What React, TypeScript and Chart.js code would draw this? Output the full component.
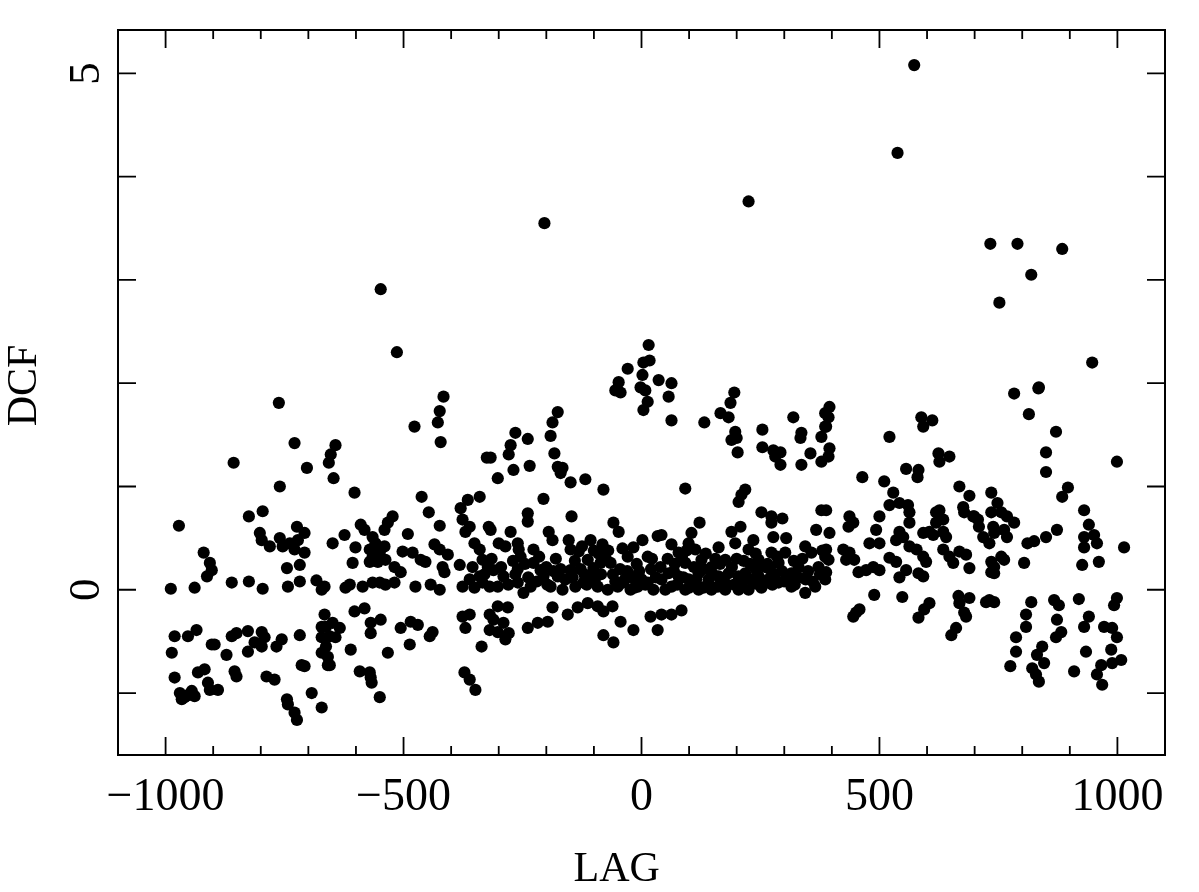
import React, { useEffect, useRef } from "react";
import { Chart, registerables } from "chart.js";

Chart.register(...registerables);

// ---- Data (LAG, DCF) ----
const farLeftPoints: [number, number][] = [
  [-762, 1.81], [-729, 1.42], [-857, 1.23], [-703, 1.18], [-760, 1.0], [-972, 0.62],
  [-825, 0.71], [-796, 0.76], [-802, 0.55], [-798, 0.48], [-781, 0.42], [-760, 0.5],
  [-754, 0.42], [-739, 0.45], [-724, 0.61], [-708, 0.55], [-722, 0.48], [-729, 0.39],
  [-708, 0.36], [-920, 0.36], [-907, 0.26], [-903, 0.19], [-913, 0.13], [-745, 0.21],
  [-718, 0.24], [-989, 0.01], [-939, 0.02], [-861, 0.07], [-825, 0.08], [-796, 0.01],
  [-743, 0.03], [-718, 0.08], [-683, 0.09], [-672, 0.0], [-981, -0.45], [-987, -0.61],
  [-953, -0.45], [-935, -0.39], [-903, -0.53], [-897, -0.53], [-861, -0.45], [-851, -0.42],
  [-827, -0.4], [-798, -0.41], [-813, -0.51], [-827, -0.6], [-798, -0.55], [-792, -0.46],
  [-756, -0.48], [-767, -0.55], [-872, -0.63], [-718, -0.44], [-672, -0.36], [-672, -0.46],
  [-672, -0.61], [-981, -0.85], [-970, -1.0], [-953, -1.02], [-939, -1.03], [-966, -1.06],
  [-960, -1.04], [-945, -0.98], [-918, -0.77], [-932, -0.8], [-911, -0.9], [-907, -0.97],
  [-890, -0.97], [-855, -0.79], [-851, -0.84], [-788, -0.84], [-771, -0.87], [-714, -0.73],
  [-708, -0.74], [-693, -1.0], [-745, -1.06], [-743, -1.11], [-729, -1.19], [-724, -1.26],
  [-672, -1.14], [-659, -0.73],
];

const leftPoints: [number, number][] = [
  [-416, 1.87], [-424, 1.73], [-428, 1.62], [-422, 1.43], [-477, 1.58], [-643, 1.4],
  [-653, 1.31], [-657, 1.23], [-647, 1.08], [-325, 1.28], [-603, 0.94], [-462, 0.9],
  [-447, 0.75], [-424, 0.62], [-365, 0.87], [-340, 0.9], [-380, 0.79], [-376, 0.68],
  [-361, 0.61], [-370, 0.56], [-321, 0.61], [-590, 0.63], [-582, 0.58], [-523, 0.71],
  [-533, 0.65], [-540, 0.58], [-624, 0.53], [-649, 0.45], [-565, 0.51], [-559, 0.45],
  [-571, 0.39], [-565, 0.32], [-550, 0.36], [-540, 0.42], [-538, 0.29], [-554, 0.27],
  [-571, 0.27], [-601, 0.41], [-607, 0.26], [-491, 0.54], [-502, 0.37], [-481, 0.36],
  [-464, 0.29], [-454, 0.27], [-519, 0.22], [-506, 0.17], [-435, 0.44], [-424, 0.39],
  [-407, 0.34], [-418, 0.22], [-414, 0.17], [-382, 0.24], [-351, 0.45], [-340, 0.39],
  [-334, 0.29], [-323, 0.22], [-355, 0.22], [-361, 0.1], [-340, 0.13], [-334, 0.07],
  [-319, 0.03], [-376, 0.03], [-351, 0.02], [-666, 0.03], [-622, 0.02], [-613, 0.05],
  [-586, 0.03], [-565, 0.07], [-550, 0.07], [-538, 0.05], [-519, 0.07], [-475, 0.03],
  [-443, 0.05], [-424, 0.0], [-666, -0.24], [-663, -0.36], [-649, -0.32], [-634, -0.37],
  [-655, -0.45], [-643, -0.46], [-663, -0.55], [-659, -0.65], [-655, -0.73], [-603, -0.21],
  [-582, -0.18], [-569, -0.32], [-548, -0.29], [-569, -0.42], [-611, -0.58], [-533, -0.61],
  [-506, -0.37], [-485, -0.31], [-470, -0.34], [-487, -0.53], [-439, -0.41], [-445, -0.45],
  [-592, -0.79], [-571, -0.8], [-569, -0.85], [-567, -0.9], [-550, -1.04], [-376, -0.26],
  [-361, -0.24], [-370, -0.37], [-319, -0.24], [-319, -0.39], [-336, -0.55], [-372, -0.8],
  [-361, -0.87], [-349, -0.97],
];

const centerLeftPoints: [number, number][] = [
  [15, 2.37], [17, 2.22], [4, 2.2], [2, 2.08], [-2, 1.96], [8, 1.93], [-29, 2.14],
  [-48, 2.01], [-44, 1.91], [-55, 1.93], [36, 2.03], [13, 1.82], [4, 1.74], [-176, 1.72],
  [-187, 1.62], [-191, 1.49], [-183, 1.32], [-176, 1.19], [-166, 1.18], [-170, 1.13],
  [-149, 1.04], [-118, 1.07], [-265, 1.52], [-275, 1.4], [-279, 1.31], [-239, 1.46],
  [-235, 1.2], [-269, 1.16], [-302, 1.08], [-317, 1.28], [-80, 0.97], [-206, 0.88],
  [-239, 0.74], [-239, 0.66], [-147, 0.71], [-59, 0.65], [-48, 0.56], [-317, 0.58],
  [-275, 0.56], [-286, 0.42], [-258, 0.39], [-254, 0.32], [-227, 0.39], [-195, 0.56],
  [-187, 0.48], [-153, 0.48], [-149, 0.39], [-107, 0.48], [-82, 0.44], [-132, 0.37],
  [-113, 0.29], [-86, 0.26], [-65, 0.26], [2, 0.48], [-17, 0.41], [-29, 0.32], [13, 0.32],
  [34, 0.52], [-311, 0.19], [-290, 0.13], [-302, 0.03], [-260, 0.07], [-233, 0.03],
  [-248, -0.03], [-206, 0.13], [-191, 0.03], [-176, 0.13], [-166, 0.0], [-139, 0.03],
  [-122, 0.07], [-107, 0.13], [-92, 0.03], [-71, 0.0], [-50, 0.03], [-38, 0.07], [-23, 0.0],
  [-8, 0.03], [13, 0.07], [25, 0.0], [-227, 0.26], [-212, 0.19], [-149, 0.19], [-101, 0.21],
  [-260, 0.2], [-180, 0.3], [-120, 0.15], [-60, 0.15], [-30, 0.18], [0, 0.1], [-10, 0.25],
  [20, 0.2], [30, 0.12], [-40, 0.4], [-90, 0.35], [-140, 0.28], [-200, 0.22], [-270, 0.28],
  [-302, -0.16], [-281, -0.17], [-311, -0.29], [-290, -0.32], [-302, -0.41], [-286, -0.48],
  [-279, -0.42], [-239, -0.37], [-218, -0.32], [-197, -0.31], [-187, -0.17], [-155, -0.24],
  [-134, -0.17], [-113, -0.13], [-92, -0.16], [-80, -0.21], [-61, -0.16], [-44, -0.31],
  [-17, -0.39], [19, -0.26], [34, -0.39], [-80, -0.44], [-59, -0.51], [-204, 3.55],
  [-548, 2.91], [-514, 2.3],
];

const centerBandPoints: [number, number][] = [
  [-330, 0.15], [-315, 0.3], [-295, 0.22], [-280, 0.05], [-265, 0.15], [-245, 0.25],
  [-238, 0.12], [-220, 0.08], [-215, 0.32], [-198, 0.05], [-185, 0.18], [-170, 0.2],
  [-160, 0.1], [-145, 0.12], [-128, 0.2], [-115, 0.05], [-98, 0.1], [-85, 0.15],
  [-75, 0.3], [-55, 0.08], [-45, 0.2], [-35, 0.1], [-20, 0.12], [-5, 0.18], [8, 0.05],
  [22, 0.3], [40, 0.22], [-125, 0.42], [-100, 0.38], [-70, 0.38], [-15, 0.02],
  [-260, 0.45], [-300, 0.45], [55, 0.3], [68, 0.18], [88, 0.12], [95, 0.38], [115, 0.1],
  [130, 0.2], [150, 0.15], [165, 0.25], [180, 0.05], [200, 0.3], [212, 0.08], [228, 0.25],
  [240, 0.35], [252, 0.02], [265, 0.25], [275, 0.05], [285, 0.32], [295, 0.18], [310, 0.1],
  [322, 0.05], [338, 0.3], [345, 0.1], [360, 0.08], [375, 0.15], [380, 0.38], [160, 0.03],
  [130, 0.02], [100, 0.02], [240, 0.06], [270, 0.2],
];

const centerRightPoints: [number, number][] = [
  [63, 2.0], [57, 1.87], [63, 1.64], [195, 1.91], [187, 1.81], [166, 1.71], [183, 1.67],
  [132, 1.62], [197, 1.53], [200, 1.47], [189, 1.45], [202, 1.33], [319, 1.67], [336, 1.52],
  [334, 1.47], [254, 1.55], [254, 1.38], [277, 1.35], [292, 1.33], [281, 1.29], [292, 1.21],
  [355, 1.32], [336, 1.21], [378, 1.24], [386, 1.58], [378, 1.48], [386, 1.71], [92, 0.98],
  [218, 0.97], [210, 0.92], [204, 0.85], [252, 0.75], [273, 0.71], [296, 0.69], [273, 0.65],
  [378, 0.77], [367, 0.58], [122, 0.65], [105, 0.55], [42, 0.53], [189, 0.56], [208, 0.61],
  [197, 0.45], [277, 0.51], [304, 0.5], [235, 0.48], [225, 0.39], [63, 0.44], [78, 0.36],
  [99, 0.45], [113, 0.39], [92, 0.26], [126, 0.29], [147, 0.22], [162, 0.41], [176, 0.29],
  [57, 0.16], [78, 0.13], [99, 0.1], [120, 0.16], [141, 0.1], [162, 0.13], [183, 0.16],
  [204, 0.13], [218, 0.16], [231, 0.1], [246, 0.29], [260, 0.22], [273, 0.36], [288, 0.26],
  [302, 0.36], [315, 0.16], [330, 0.22], [344, 0.42], [357, 0.36], [372, 0.22], [386, 0.32],
  [246, 0.13], [267, 0.1], [288, 0.07], [315, 0.03], [344, -0.03], [365, 0.03], [386, 0.1],
  [42, 0.1], [63, 0.03], [92, 0.0], [120, 0.0], [147, 0.0], [176, 0.0], [204, 0.0], [225, 0.0],
  [50, 0.0], [42, -0.24], [63, -0.24], [84, -0.2], [70, 0.25], [85, 0.32], [135, 0.35],
  [155, 0.3], [190, 0.22], [215, 0.28], [240, 0.2], [280, 0.15], [300, 0.08], [330, 0.12],
  [350, 0.18], [110, 0.22], [170, 0.08], [195, 0.05], [255, 0.05], [320, 0.28], [75, 0.05],
  [105, 0.06], [140, 0.06], [225, 3.76],
];

const rightPoints: [number, number][] = [
  [395, 1.77], [393, 1.67], [388, 1.58], [395, 1.37], [393, 1.29], [588, 1.67], [611, 1.64],
  [592, 1.58], [521, 1.48], [624, 1.32], [647, 1.29], [626, 1.24], [556, 1.17], [582, 1.16],
  [580, 1.09], [464, 1.09], [510, 1.05], [529, 0.94], [521, 0.82], [668, 1.0], [689, 0.91],
  [676, 0.8], [678, 0.75], [697, 0.71], [707, 0.68], [735, 0.94], [735, 0.75], [542, 0.84],
  [560, 0.82], [563, 0.75], [563, 0.65], [542, 0.56], [550, 0.51], [535, 0.48], [563, 0.42],
  [578, 0.39], [592, 0.32], [598, 0.27], [592, 0.55], [605, 0.56], [619, 0.75], [626, 0.77],
  [619, 0.65], [634, 0.68], [634, 0.56], [613, 0.53], [640, 0.51], [388, 0.77], [395, 0.55],
  [388, 0.39], [393, 0.29], [388, 0.17], [437, 0.71], [435, 0.61], [445, 0.65], [500, 0.71],
  [493, 0.58], [424, 0.39], [437, 0.36], [447, 0.29], [430, 0.29], [479, 0.45], [500, 0.45],
  [456, 0.17], [472, 0.19], [487, 0.22], [500, 0.19], [521, 0.31], [535, 0.27], [542, 0.12],
  [556, 0.19], [582, 0.16], [592, 0.13], [634, 0.39], [647, 0.32], [655, 0.26], [668, 0.37],
  [682, 0.34], [689, 0.21], [699, 0.71], [709, 0.61], [718, 0.51], [731, 0.45], [739, 0.61],
  [735, 0.27], [735, 0.17], [489, -0.05], [548, -0.07], [451, -0.22], [445, -0.26],
  [458, -0.19], [582, -0.27], [594, -0.19], [605, -0.13], [666, -0.06], [668, -0.13],
  [689, -0.08], [678, -0.22], [682, -0.26], [724, -0.12], [731, -0.1], [651, -0.44],
  [661, -0.37], [573, 5.08], [538, 4.23],
];

const farRightPoints: [number, number][] = [
  [783, 1.9], [835, 1.96], [814, 1.7], [871, 1.53], [850, 1.33], [850, 1.14], [999, 1.24],
  [896, 0.99], [884, 0.9], [930, 0.77], [940, 0.63], [951, 0.53], [957, 0.45], [930, 0.51],
  [930, 0.41], [926, 0.24], [961, 0.27], [1014, 0.41], [873, 0.58], [850, 0.51], [825, 0.47],
  [811, 0.45], [804, 0.26], [748, 0.84], [756, 0.75], [768, 0.71], [783, 0.65], [762, 0.58],
  [768, 0.51], [741, 0.55], [756, 0.32], [762, 0.29], [741, 0.22], [741, 0.16], [741, -0.12],
  [819, -0.12], [808, -0.24], [808, -0.36], [787, -0.46], [787, -0.6], [775, -0.74],
  [867, -0.1], [877, -0.15], [873, -0.29], [882, -0.41], [871, -0.46], [919, -0.09],
  [940, -0.26], [930, -0.36], [934, -0.6], [909, -0.79], [842, -0.55], [831, -0.63],
  [846, -0.71], [821, -0.76], [829, -0.82], [835, -0.89], [999, -0.08], [993, -0.15],
  [972, -0.36], [989, -0.37], [999, -0.46], [987, -0.58], [1008, -0.68], [989, -0.71],
  [966, -0.73], [957, -0.82], [968, -0.92], [733, 3.35], [790, 3.35], [884, 3.3],
  [819, 3.05], [752, 2.78], [947, 2.2], [834, 1.95],
];

const X_TICKS = [-1100, -1000, -900, -800, -700, -600, -500, -400, -300, -200, -100, 0, 100, 200, 300, 400, 500, 600, 700, 800, 900, 1000, 1100];
const Y_TICKS = [-1, 0, 1, 2, 3, 4, 5];
const Y_LABELS = [0, 5];
const X_TITLE = "LAG";
const Y_TITLE = "DCF";

const FONT = '"Liberation Serif", "Times New Roman", serif';

const framePlugin = {
  id: "frame",
  afterDraw(chart: any) {
    const { ctx, chartArea } = chart;
    const { left, right, top, bottom } = chartArea;
    const x = chart.scales.x;
    const y = chart.scales.y;
    ctx.save();
    ctx.strokeStyle = "#000";
    ctx.lineWidth = 2;
    ctx.strokeRect(left, top, right - left, bottom - top);
    ctx.lineWidth = 1.8;
    ctx.beginPath();
    for (const v of X_TICKS) {
      const px = x.getPixelForValue(v);
      const len = v % 500 === 0 ? 18 : 9;
      ctx.moveTo(px, bottom);
      ctx.lineTo(px, bottom - len);
      ctx.moveTo(px, top);
      ctx.lineTo(px, top + len);
    }
    for (const v of Y_TICKS) {
      const py = y.getPixelForValue(v);
      ctx.moveTo(left, py);
      ctx.lineTo(left + 18, py);
      ctx.moveTo(right, py);
      ctx.lineTo(right - 18, py);
    }
    ctx.stroke();

    ctx.fillStyle = "#000";
    ctx.font = `45px ${FONT}`;
    ctx.textAlign = "center";
    ctx.textBaseline = "middle";
    for (const v of Y_LABELS) {
      const py = y.getPixelForValue(v);
      ctx.save();
      ctx.translate(left - 31, py);
      ctx.rotate(-Math.PI / 2);
      ctx.fillText(String(v), 0, 0);
      ctx.restore();
    }
    // axis titles
    ctx.font = `42px ${FONT}`;
    ctx.save();
    ctx.translate(25, (top + bottom) / 2 - 7);
    ctx.rotate(-Math.PI / 2);
    ctx.fillText(Y_TITLE, 0, 0);
    ctx.restore();
    ctx.fillText(X_TITLE, x.getPixelForValue(-52), 870);
    ctx.restore();
  },
};

export default function App() {
  const canvasRef = useRef<HTMLCanvasElement | null>(null);

  useEffect(() => {
    if (!canvasRef.current) return;
    const all = [
      ...farLeftPoints,
      ...leftPoints,
      ...centerLeftPoints,
      ...centerBandPoints,
      ...centerRightPoints,
      ...rightPoints,
      ...farRightPoints,
    ].map(([lag, dcf]) => ({ x: lag, y: dcf }));

    const chart = new Chart(canvasRef.current, {
      type: "scatter",
      data: {
        datasets: [
          {
            data: all,
            backgroundColor: "#000",
            borderWidth: 0,
            pointRadius: 6.1,
            pointHoverRadius: 6.1,
          },
        ],
      },
      options: {
        animation: false,
        responsive: true,
        maintainAspectRatio: false,
        layout: { padding: { top: 30, right: 34, left: 0, bottom: 0 } },
        plugins: { legend: { display: false }, tooltip: { enabled: false } },
        scales: {
          x: {
            type: "linear",
            min: -1100,
            max: 1100,
            grid: { display: false, drawTicks: false },
            border: { display: false },
            ticks: {
              stepSize: 100,
              autoSkip: false,
              maxRotation: 0,
              minRotation: 0,
              padding: 20,
              color: "#000",
              font: { family: FONT, size: 46, lineHeight: 1 },
              callback: (v: any) => {
                const n = Number(v);
                if (n % 500 !== 0 || Math.abs(n) > 1000) return "";
                return n < 0 ? "\u2212" + Math.abs(n) : String(n);
              },
            },
            afterFit: (s: any) => {
              s.height = 137;
            },
          },
          y: {
            type: "linear",
            min: -1.6,
            max: 5.42,
            grid: { display: false, drawTicks: false },
            border: { display: false },
            ticks: { display: false },
            afterFit: (s: any) => {
              s.width = 118;
            },
          },
        },
      },
      plugins: [framePlugin],
    });
    return () => chart.destroy();
  }, []);

  return (
    <div style={{ position: "fixed", left: 0, top: 0, width: 1199, height: 892, background: "#fff" }}>
      <canvas ref={canvasRef} />
    </div>
  );
}
